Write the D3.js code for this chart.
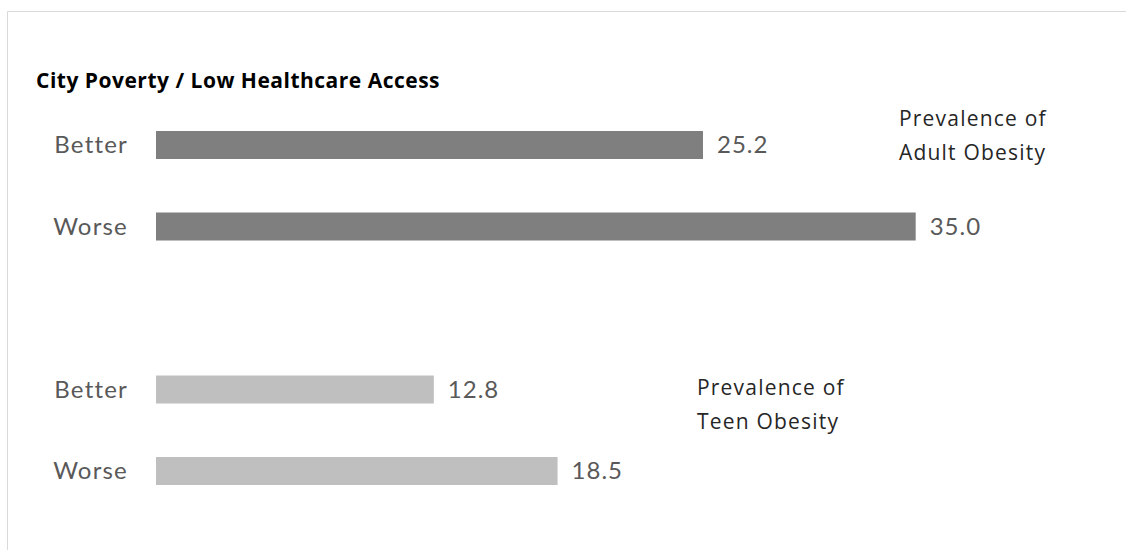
<!DOCTYPE html>
<html><head><meta charset="utf-8">
<script src="https://cdn.jsdelivr.net/npm/d3@7"></script>
<style>body{margin:0;background:#fff;}svg{display:block;}</style>
</head><body>
<svg id="chart" width="1126" height="550"></svg>
<script>
const title = "City Poverty / Low Healthcare Access";
const categories = ["Better", "Worse"];
const adultValues = [25.2, 35.0];
const teenValues = [12.8, 18.5];
const groupNames = [["Prevalence of", "Adult Obesity"], ["Prevalence of", "Teen Obesity"]];
const rowKeys = ["adult-Better", "adult-Worse", "gap", "teen-Better", "teen-Worse"];

const rows = [
  ...categories.map((c, i) => ({key: "adult-" + c, cat: c, value: adultValues[i], group: 0})),
  ...categories.map((c, i) => ({key: "teen-" + c, cat: c, value: teenValues[i], group: 1}))
];
const colors = ["#7f7f7f", "#bfbfbf"];

const svg = d3.select("#chart");
// frame
svg.append("line").attr("x1", 7.5).attr("x2", 1126).attr("y1", 11.5).attr("y2", 11.5).attr("stroke", "#d9d9d9");
svg.append("line").attr("x1", 7.5).attr("x2", 7.5).attr("y1", 11.5).attr("y2", 550).attr("stroke", "#d9d9d9");

const x = d3.scaleLinear().domain([0, 35]).range([156, 915.7]);
const y = d3.scalePoint().domain(rowKeys).range([145, 471]);
const barH = 28;

svg.append("text").attr("x", 36).attr("y", 88).text(title)
  .attr("font-family", "Open Sans").attr("font-weight", "bold").attr("font-size", 21)
  .attr("letter-spacing", 0.5).attr("fill", "#000");

svg.selectAll("rect.bar").data(rows).join("rect").attr("class", "bar")
  .attr("x", x(0)).attr("y", d => y(d.key) - barH / 2)
  .attr("width", d => x(d.value) - x(0)).attr("height", barH)
  .attr("fill", d => colors[d.group]);

svg.selectAll("text.cat").data(rows).join("text").attr("class", "cat")
  .attr("x", 128).attr("y", d => y(d.key)).attr("dy", "0.35em")
  .attr("text-anchor", "end").text(d => d.cat)
  .attr("font-family", "Lato").attr("font-size", 24).attr("letter-spacing", 1.2).attr("fill", "#595959");

svg.selectAll("text.val").data(rows).join("text").attr("class", "val")
  .attr("x", d => x(d.value) + 14).attr("y", d => y(d.key)).attr("dy", "0.35em")
  .text(d => d3.format(".1f")(d.value))
  .attr("font-family", "Lato").attr("font-size", 24).attr("letter-spacing", 1).attr("fill", "#595959");

const annPos = [{x: 899, y: 119}, {x: 697, y: 388}];
groupNames.forEach((lines, g) => {
  const t = svg.append("text").attr("font-family", "Open Sans").attr("font-size", 21)
    .attr("letter-spacing", 1.2).attr("fill", "#262626");
  lines.forEach((l, i) => t.append("tspan").attr("x", annPos[g].x).attr("y", annPos[g].y + i * 33.5).attr("dy", "0.35em").text(l));
});
</script>
</body></html>
